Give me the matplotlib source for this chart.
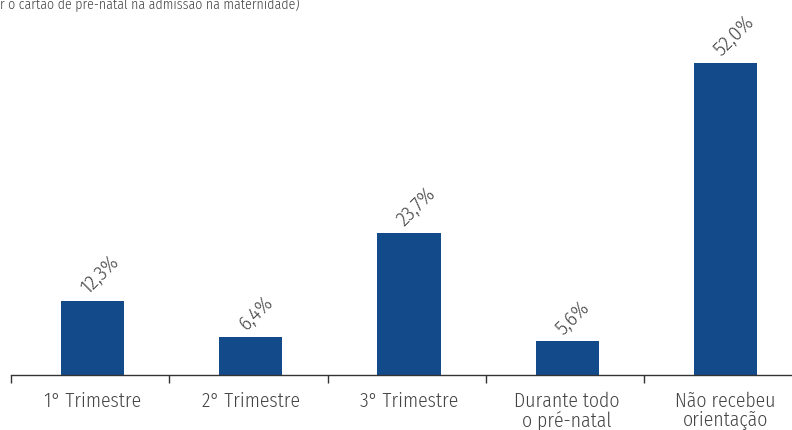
import matplotlib
matplotlib.use("Agg")
import matplotlib.pyplot as plt

categories = ["1° Trimestre", "2° Trimestre", "3° Trimestre", "Durante todo\no pré-natal", "Não recebeu\norientação"]
values = [12.3, 6.4, 23.7, 5.6, 52.0]
value_labels = ["12,3%", "6,4%", "23,7%", "5,6%", "52,0%"]
caption = "r o cartão de pré-natal na admissão na maternidade)"

plt.rcParams['font.family'] = ["Fira Sans Condensed", "Open Sans", "DejaVu Sans"]
plt.rcParams['font.weight'] = 300

W, H = 792, 431
fig = plt.figure(figsize=(W/100, H/100), dpi=100)
left = 11 / W
bottom = (H - 376) / H
ax = fig.add_axes([left, bottom, 1 - left, 376 / H])

step = 158.25
tick_offset = -0.515
ax.set_xlim(tick_offset, tick_offset + (W - 11) / step)
ax.set_ylim(0, 376 / 6.0)

bar_color = "#134a8a"
text_color = "#444444"
x = list(range(len(categories)))
ax.bar(x, values, width=0.4, color=bar_color)

for xi, v, lab in zip(x, values, value_labels):
    ax.annotate(lab, (xi, v), xytext=(-1, 3), textcoords="offset points",
                rotation=45, rotation_mode="anchor", ha="left", va="bottom",
                fontsize=15, color=text_color, fontweight=300)

for s in ["top", "right", "left"]:
    ax.spines[s].set_visible(False)
ax.spines["bottom"].set_color("#333333")
ax.spines["bottom"].set_linewidth(1.0)
ax.set_yticks([])

ax.set_xticks([i + tick_offset for i in range(len(categories))])
ax.set_xticklabels([])
ax.set_xticks(x, minor=True)
ax.set_xticklabels(categories, minor=True, fontsize=14.2, color=text_color, linespacing=1.0, fontweight=300)
ax.tick_params(axis="x", which="major", length=6, width=1, color="#333333", direction="out")
ax.tick_params(axis="x", which="minor", length=0, pad=11)

fig.text(0, 1 - 9 / H, caption, ha="left", va="baseline", fontsize=10, color=text_color, fontweight=300)

fig.savefig("out.png", dpi=100)
